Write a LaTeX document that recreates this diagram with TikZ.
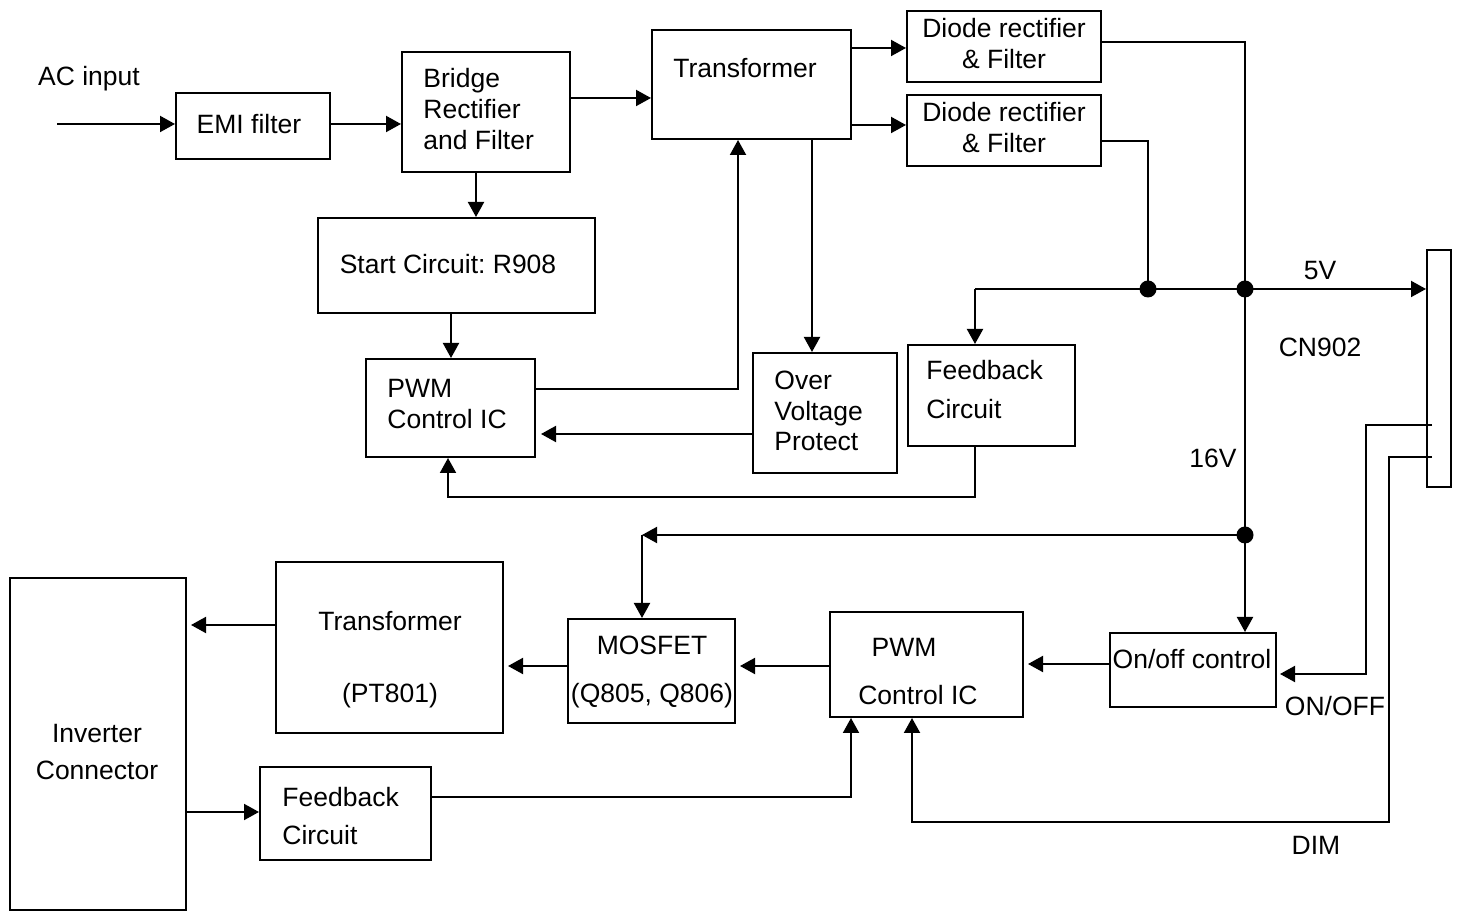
\documentclass[tikz,border=0pt]{standalone}
\usepackage{fontspec}
\setmainfont{Liberation Sans}
\usetikzlibrary{fit,arrows.meta}
\frenchspacing
\begin{document}
\begin{tikzpicture}[x=0.5pt,y=-0.5pt,
  box/.style={draw, line width=1pt, inner sep=0pt},
  txt/.style={inner sep=0pt, font=\fontsize{13.25}{15.5}\selectfont, anchor=base},
  ltxt/.style={txt, anchor=base west},
  wire/.style={line width=1pt},
  arr/.style={wire, -{Triangle[length=7.5pt,width=8pt]}},
  dotn/.style={circle, fill, inner sep=0pt, minimum size=8.5pt}]
\useasboundingbox (0,0) rectangle (1463,913);

% ---- boxes ----
\node[box, fit={(176,93) (330,159)}] (EMI) {};
\node[box, fit={(402,52) (570,172)}] (BR) {};
\node[box, fit={(652,30) (851,139)}] (TR1) {};
\node[box, fit={(907,11) (1101,82)}] (D1) {};
\node[box, fit={(907,95) (1101,166)}] (D2) {};
\node[box, fit={(318,218) (595,313)}] (SC) {};
\node[box, fit={(366,359) (535,457)}] (PWM1) {};
\node[box, fit={(753,353) (897,473)}] (OVP) {};
\node[box, fit={(908,345) (1075,446)}] (FB1) {};
\node[box, fit={(1427,250) (1451,487)}] (CN) {};
\node[box, fit={(10,578) (186,910)}] (INV) {};
\node[box, fit={(276,562) (503,733)}] (TR2) {};
\node[box, fit={(568,619) (735,723)}] (MOS) {};
\node[box, fit={(830,612) (1023,717)}] (PWM2) {};
\node[box, fit={(1110,633) (1276,707)}] (ONOFF) {};
\node[box, fit={(260,767) (431,860)}] (FB2) {};

% ---- texts ----
\node[txt] (tac) at (89,86) {AC input};
\node[txt] (temi) at (249,134) {EMI filter};
\node[ltxt] (tbr1) at (423,88) {Bridge};
\node[ltxt] (tbr2) at (423,119) {Rectifier};
\node[ltxt] (tbr3) at (423,150) {and Filter};
\node[txt] (ttr1) at (745,78) {Transformer};
\node[txt] (td11) at (1004,38) {Diode rectifier};
\node[txt] (td12) at (1004,69) {\& Filter};
\node[txt] (td21) at (1004,122) {Diode rectifier};
\node[txt] (td22) at (1004,153) {\& Filter};
\node[txt] (tsc) at (448,274) {Start Circuit: R908};
\node[ltxt] (tp11) at (387,398) {PWM};
\node[ltxt] (tp12) at (387,429) {Control IC};
\node[ltxt] (tov1) at (774,390) {Over};
\node[ltxt] (tov2) at (774,421) {Voltage};
\node[ltxt] (tov3) at (774,451) {Protect};
\node[ltxt] (tfb11) at (926,380) {Feedback};
\node[ltxt] (tfb12) at (926,419) {Circuit};
\node[txt] (t5v) at (1320,280) {5V};
\node[txt] (tcn) at (1320,357) {CN902};
\node[txt] (t16v) at (1213,468) {16V};
\node[txt] (tinv1) at (97,743) {Inverter};
\node[txt] (tinv2) at (97,780) {Connector};
\node[txt] (ttr21) at (390,631) {Transformer};
\node[txt] (ttr22) at (390,703) {(PT801)};
\node[txt] (tmos1) at (652,655) {MOSFET};
\node[txt] (tmos2) at (652,703) {(Q805, Q806)};
\node[txt] (tp21) at (904,657) {PWM};
\node[txt] (tp22) at (918,705) {Control IC};
\node[txt] (ton) at (1192,669) {On/off control};
\node[txt] (tonoff) at (1335,716) {ON/OFF};
\node[txt] (tdim) at (1316,855) {DIM};
\node[ltxt] (tfb21) at (282,807) {Feedback};
\node[ltxt] (tfb22) at (282,845) {Circuit};

% ---- junctions ----
\coordinate (acin) at (57,124);
\coordinate (j5) at (1245,289);
\coordinate (jd2) at (1148,289);
\coordinate (jfb) at (975,289);
\coordinate (j16) at (1245,535);
\coordinate (jmos) at (642,535);
\coordinate (fbb) at (975,497);
\coordinate (cnon) at (1432,425);
\coordinate (cndim) at (1432,457);
\node[dotn] (dj5) at (j5) {};
\node[dotn] (djd2) at (jd2) {};
\node[dotn] (dj16) at (j16) {};

% ---- connectors ----
\draw[arr] (acin) -- (EMI.west |- acin);
\draw[arr] (EMI.east |- 0,124) -- (BR.west |- 0,124);
\draw[arr] (BR.east |- 0,98) -- (TR1.west |- 0,98);
\draw[arr] (TR1.east |- 0,48) -- (D1.west |- 0,48);
\draw[arr] (TR1.east |- 0,125) -- (D2.west |- 0,125);
\draw[wire] (D1.east |- 0,42) -| (dj5.center);
\draw[wire] (dj5.center) -- (dj16.center);
\draw[arr] (dj16.center) -- (ONOFF.north -| j16);
\draw[wire] (D2.east |- 0,141) -| (djd2.center);
\draw[arr] (jfb) -- (CN.west |- j5);
\draw[arr] (jfb) -- (FB1.north -| jfb);
\draw[arr] (BR.south -| 476,0) -- (SC.north -| 476,0);
\draw[arr] (SC.south -| 451,0) -- (PWM1.north -| 451,0);
\draw[arr] (PWM1.east |- 0,389) -| (TR1.south -| 738,0);
\draw[arr] (TR1.south -| 812,0) -- (OVP.north -| 812,0);
\draw[arr, shorten >=2.5pt] (OVP.west |- 0,434) -- (PWM1.east |- 0,434);
\draw[arr] (FB1.south -| fbb) -- (fbb) -| (PWM1.south -| 448,0);
\draw[arr, shorten >=1.5pt] (cnon) -| (1366,674) -- (ONOFF.east |- 0,674);
\draw[arr] (cndim) -| (1389,822) -| (PWM2.south -| 912,0);
\draw[arr, shorten >=2pt] (ONOFF.west |- 0,664) -- (PWM2.east |- 0,664);
\draw[arr, shorten >=2pt] (PWM2.west |- 0,666) -- (MOS.east |- 0,666);
\draw[arr, shorten >=2pt] (MOS.west |- 0,666) -- (TR2.east |- 0,666);
\draw[arr, shorten >=2pt] (TR2.west |- 0,625) -- (INV.east |- 0,625);
\draw[arr] (INV.east |- 0,812) -- (FB2.west |- 0,812);
\draw[arr] (FB2.east |- 0,797) -| (PWM2.south -| 851,0);
\draw[arr] (dj16.center) -- (jmos);
\draw[arr] (jmos) -- (MOS.north -| jmos);
\end{tikzpicture}
\end{document}
